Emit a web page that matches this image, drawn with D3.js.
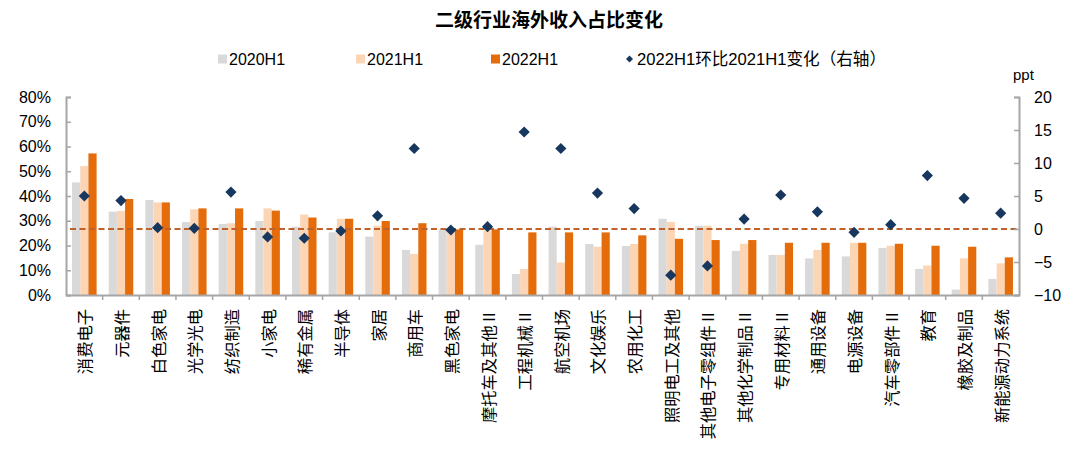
<!DOCTYPE html>
<html><head><meta charset="utf-8">
<script src="https://cdn.jsdelivr.net/npm/d3@7"></script>
<style>
html,body{margin:0;padding:0;background:#fff;}
svg{display:block;}
text{font-family:"Liberation Sans",Arial,"Noto Sans CJK SC",sans-serif;fill:#000;}
.cjk{font-family:"Liberation Sans","Noto Sans CJK SC",sans-serif;}
.cjkonly{font-family:"Noto Sans CJK SC",sans-serif;}
</style></head>
<body>
<svg id="chart" width="1080" height="450"></svg>
<script>
const categories = ["消费电子","元器件","白色家电","光学光电","纺织制造","小家电","稀有金属","半导体","家居","商用车","黑色家电","摩托车及其他Ⅱ","工程机械Ⅱ","航空机场","文化娱乐","农用化工","照明电工及其他","其他电子零组件Ⅱ","其他化学制品Ⅱ","专用材料Ⅱ","通用设备","电源设备","汽车零部件Ⅱ","教育","橡胶及制品","新能源动力系统"];
const s2020 = [45.5,33.7,38.4,29.5,28.7,29.9,27.6,25.3,23.6,18.2,26.5,20.3,8.5,27.6,20.6,19.8,30.8,28.0,17.8,16.2,14.8,15.6,19.0,10.5,2.2,6.5];
const s2021 = [52.1,34.0,37.4,34.6,29.0,35.0,32.5,30.8,28.0,16.6,26.5,26.0,10.5,13.1,19.5,20.6,29.5,28.0,20.7,16.2,18.2,21.1,19.9,11.9,14.8,12.8];
const s2022 = [57.2,38.8,37.4,35.0,35.0,34.1,31.3,30.8,29.9,29.0,26.5,26.5,25.3,25.3,25.3,24.1,22.7,22.2,22.2,21.1,21.1,21.1,20.7,19.9,19.5,15.2];
const change = [5.0,4.3,0.2,0.1,5.6,-1.2,-1.4,-0.3,2.0,12.2,-0.15,0.35,14.7,12.2,5.45,3.1,-7.0,-5.6,1.5,5.15,2.6,-0.5,0.65,8.1,4.65,2.4];
const leftTicks = [0,10,20,30,40,50,60,70,80];
const rightTicks = [-10,-5,0,5,10,15,20];
const seriesNames = ["2020H1","2021H1","2022H1"];
const changeName = "2022H1环比2021H1变化（右轴）";
const title = "二级行业海外收入占比变化";

const colors = ["#D9D9D9","#FCD5B5","#E46C0A"];
const diamondColor = "#17375E";
const dashColor = "#C0612B";
const axisColor = "#A6A6A6";

const svg = d3.select("#chart");
const L = 66, R = 1019, T = 97, B = 295;

const x = d3.scaleBand().domain(categories).range([L, R]).padding(0);
const yL = d3.scaleLinear().domain([0, 80]).range([B, T]);
const yR = d3.scaleLinear().domain([-10, 20]).range([B, T]);
const groupW = x.bandwidth() * 0.67;
const xs = d3.scaleBand().domain(seriesNames).range([0, groupW]).padding(0);

// title
svg.append("text").attr("class","cjkonly").attr("x", 549).attr("y", 27)
  .attr("text-anchor","middle").style("font-size","19px").style("font-weight","bold")
  .text(title);

// bars
const allSeries = [s2020, s2021, s2022];
allSeries.forEach((vals, si) => {
  svg.append("g").selectAll("rect").data(vals).join("rect")
    .attr("x", (d,i) => x(categories[i]) + (x.bandwidth()-groupW)/2 + xs(seriesNames[si]))
    .attr("y", d => yL(d))
    .attr("width", xs.bandwidth())
    .attr("height", d => yL(0) - yL(d))
    .attr("fill", colors[si]);
});

// dashed zero line (right axis)
svg.append("line").attr("x1", L+4).attr("x2", R).attr("y1", yR(0)).attr("y2", yR(0))
  .attr("stroke", dashColor).attr("stroke-width", 2).attr("stroke-dasharray","6,3.5");

// axes
const leftAxis = d3.axisLeft(yL).tickValues(leftTicks).tickSize(-5).tickPadding(15).tickFormat(d => d + "%");
const gL = svg.append("g").attr("transform", `translate(${L},0)`).call(leftAxis);
const rightAxis = d3.axisRight(yR).tickValues(rightTicks).tickSize(-5).tickPadding(15);
const gR = svg.append("g").attr("transform", `translate(${R},0)`).call(rightAxis);
const bottomAxis = d3.axisBottom(x).tickSize(0).tickFormat("");
const gB = svg.append("g").attr("transform", `translate(0,${B})`).call(bottomAxis);
[gL, gR, gB].forEach(g => {
  g.select(".domain").attr("stroke", axisColor).attr("stroke-width", 2);
  g.selectAll(".tick line").attr("stroke", axisColor).attr("stroke-width", 1.5);
  g.selectAll(".tick text").style("font-size","16px").attr("fill","#000")
    .style("font-family",'"Liberation Sans",Arial,sans-serif');
});
// category separator ticks on bottom axis
svg.append("g").selectAll("line").data(categories.slice(1)).join("line")
  .attr("x1", d => x(d)).attr("x2", d => x(d))
  .attr("y1", B).attr("y2", B + 5)
  .attr("stroke", axisColor).attr("stroke-width", 1.5);

// category labels rotated -90° (reading bottom to top), aligned to the top
svg.append("g").selectAll("text").data(categories).join("text")
  .attr("class","cjkonly")
  .attr("transform", d => `translate(${x(d) + x.bandwidth()/2},309) rotate(-90)`)
  .attr("text-anchor","end")
  .attr("dominant-baseline","central")
  .style("font-size","16.3px")
  .text(d => d);

// diamonds
const dsz = 5.6;
svg.append("g").selectAll("path").data(change).join("path")
  .attr("d", (d,i) => {
    const cx = x(categories[i]) + x.bandwidth()/2, cy = yR(d);
    return `M${cx},${cy-dsz}L${cx+dsz},${cy}L${cx},${cy+dsz}L${cx-dsz},${cy}Z`;
  })
  .attr("fill", diamondColor);

// ppt label
svg.append("text").attr("x", 1013).attr("y", 80).style("font-size","15px").text("ppt");

// legend
const legY = 59;
const legItems = [
  {name: seriesNames[0], x: 218, type: "rect", color: colors[0], fs: 16},
  {name: seriesNames[1], x: 356, type: "rect", color: colors[1], fs: 16},
  {name: seriesNames[2], x: 491, type: "rect", color: colors[2], fs: 16},
  {name: changeName, x: 626, type: "diamond", color: diamondColor, fs: 16.6}
];
const lg = svg.append("g");
legItems.forEach(it => {
  if (it.type === "rect") {
    lg.append("rect").attr("x", it.x).attr("y", legY-4.5).attr("width", 9).attr("height", 9).attr("fill", it.color);
  } else {
    const cx = it.x + 3.5, s = 3.5;
    lg.append("path").attr("d", `M${cx},${legY-s}L${cx+s},${legY}L${cx},${legY+s}L${cx-s},${legY}Z`).attr("fill", it.color);
  }
  lg.append("text").attr("class","cjk").attr("x", it.x + 11).attr("y", legY + 5.5)
    .style("font-size", it.fs + "px").text(it.name);
});
</script>
</body></html>
